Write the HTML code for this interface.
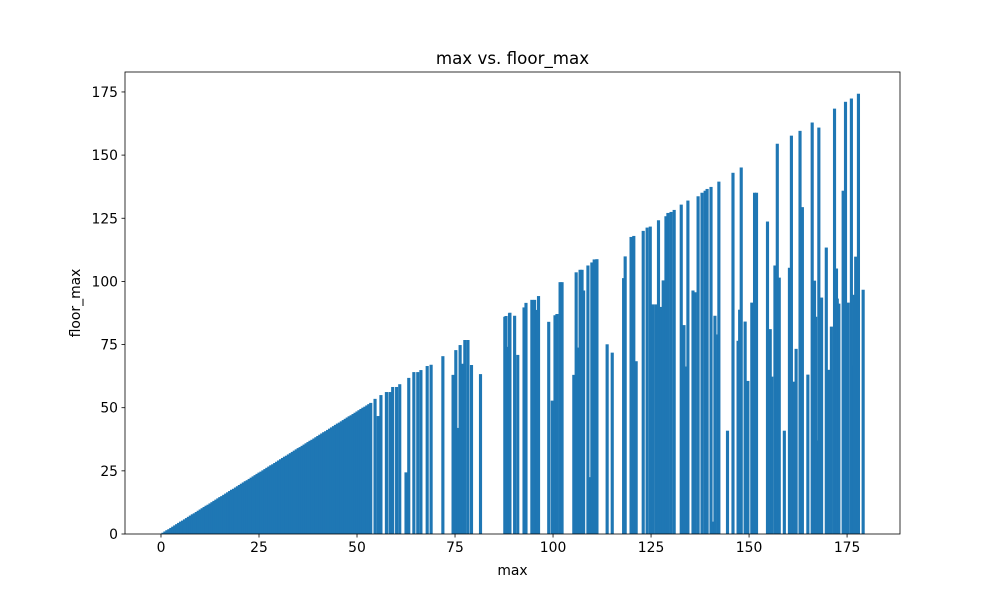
<!DOCTYPE html>
<html><head><meta charset="utf-8"><style>
body{margin:0;background:#fff}
svg text{font-family:"DejaVu Sans","Liberation Sans",sans-serif;fill:#000}
</style></head><body>
<svg id="chart" width="1000" height="600" xmlns="http://www.w3.org/2000/svg">
<rect width="1000" height="600" fill="#fff"/>
<text x="512.5" y="64" font-size="16.7" text-anchor="middle">max vs. floor_max</text>
<text x="512.5" y="575" font-size="13.9" text-anchor="middle">max</text>
<text x="0" y="0" font-size="13.9" text-anchor="middle" transform="translate(80,303) rotate(-90)">floor_max</text>
<g id="bars"></g>
<g id="axes"></g>
</svg>
<script>
const denseX = [0,0.5,1,1.5,2,2.5,3,3.5,4,4.5,
5,5.5,6,6.5,7,7.5,8,8.5,9,9.5,
10,10.5,11,11.5,12,12.5,13,13.5,14,14.5,
15,15.5,16,16.5,17,17.5,18,18.5,19,19.5,
20,20.5,21,21.5,22,22.5,23,23.5,24,24.5,
25,25.5,26,26.5,27,27.5,28,28.5,29,29.5,
30,30.5,31,31.5,32,32.5,33,33.5,34,34.5,
35,35.5,36,36.5,37,37.5,38,38.5,39,39.5,
40,40.5,41,41.5,42,42.5,43,43.5,44,44.5,
45,45.5,46,46.5,47,47.5,48,48.5,49,49.5,
50,50.5,51,51.5,52,52.5,53,53.5];
const denseH = [0,0.5,1,1.5,1.9,2.4,2.9,3.4,3.9,4.4,
4.9,5.3,5.8,6.3,6.8,7.3,7.8,8.2,8.7,9.2,
9.7,10.2,10.7,11.2,11.6,12.1,12.6,13.1,13.6,14.1,
14.6,15,15.5,16,16.5,17,17.5,17.9,18.4,18.9,
19.4,19.9,20.4,20.9,21.3,21.8,22.3,22.8,23.3,23.8,
24.3,24.7,25.2,25.7,26.2,26.7,27.2,27.6,28.1,28.6,
29.1,29.6,30.1,30.6,31,31.5,32,32.5,33,33.5,
34,34.4,34.9,35.4,35.9,36.4,36.9,37.3,37.8,38.3,
38.8,39.3,39.8,40.3,40.7,41.2,41.7,42.2,42.7,43.2,
43.7,44.1,44.6,45.1,45.6,46.1,46.6,47,47.5,48,
48.5,49,49.5,50,50.4,50.9,51.4,51.9];
const sparseX = [54.6,55.4,56.1,57.5,58.4,59.1,60.1,60.9,62.5,63.2,64.5,65.5,66.3,67.9,68.9,71.9,74.5,75.2,75.7,76.3,77.0,77.5,78.3,79.2,81.5,
87.7,88.0,88.6,88.9,89.0,90.2,91.0,92.6,93.1,94.6,95.3,95.8,96.3,98.9,99.8,100.5,101.0,101.8,102.3,
105.3,105.9,106.4,106.9,107.4,107.8,108.9,109.5,109.9,110.5,111.2,113.8,115.1,118.0,118.4,119.9,120.6,121.2,123.0,124.0,124.8,125.5,126.3,126.9,127.6,128.1,128.8,129.3,130.1,130.9,
132.7,133.4,134.0,134.4,135.7,136.2,137.0,138.0,138.8,139.3,140.3,140.9,141.3,142.1,142.3,
144.5,145.9,147.2,147.6,148.0,149.0,149.7,150.7,151.1,151.4,151.9,154.7,155.4,155.8,156.6,157.2,157.7,159.0,160.3,160.8,161.4,162.0,163.0,163.6,165.0,166.1,166.7,167.0,167.2,167.8,168.5,169.7,170.4,171.0,171.8,172.3,172.5,172.9,174.0,174.6,175.3,176.1,176.5,176.8,177.2,177.9,179.1];
const sparseH = [53.5,46.7,55.0,56.2,56.2,58.2,58.2,59.3,24.4,61.8,64.1,64.1,64.9,66.5,67.0,70.4,63.0,72.8,42.0,74.8,67.4,76.8,76.8,66.9,63.3,
86.0,86.3,74.1,87.4,87.6,86.4,70.9,89.7,91.5,92.7,92.7,88.7,94.2,84.0,52.8,86.6,87.1,99.7,99.7,
63.0,103.6,73.8,104.6,104.6,96.4,106.3,22.5,107.5,108.7,108.8,75.1,71.8,101.3,109.9,117.6,118.0,68.4,120.0,121.3,121.7,90.9,90.9,124.2,89.9,100.4,125.8,127.1,127.5,128.3,
130.4,82.7,66.3,132.0,96.4,95.7,133.7,135.1,135.9,136.6,137.4,4.9,86.4,79.0,139.5,
40.9,143.0,76.5,88.8,145.1,84.1,60.6,91.6,64.5,135.1,135.1,123.7,81.1,62.3,106.3,154.5,101.5,40.9,105.4,157.7,60.3,73.3,159.6,129.4,63.1,162.9,100.3,86.0,37.0,160.9,93.6,113.4,65.0,82.1,168.4,105.1,93.2,91.2,135.9,171.1,91.6,172.4,66.7,94.7,109.8,174.3,96.7];
const xTicks = [0,25,50,75,100,125,150,175];
const yTicks = [0,25,50,75,100,125,150,175];

const L=125,R=900,T=72,B=534,xMin=-9.18,xMax=188.5,yMax=182.9;
const sx=v=>L+(v-xMin)/(xMax-xMin)*(R-L);
const sy=v=>B-v/yMax*(B-T);
const NS="http://www.w3.org/2000/svg";
const bars=document.getElementById('bars'), axes=document.getElementById('axes');
function bar(x,h){
  const r=document.createElementNS(NS,'rect');
  r.setAttribute('x',sx(x-0.4));r.setAttribute('width',sx(x+0.4)-sx(x-0.4));
  r.setAttribute('y',sy(h));r.setAttribute('height',sy(0)-sy(h));
  r.setAttribute('fill','#1f77b4');
  
  
  bars.appendChild(r);
}
denseX.forEach((x,i)=>{ if(i<denseH.length) bar(x,denseH[i]); });
sparseX.forEach((x,i)=>{ if(i<sparseH.length) bar(x,sparseH[i]); });
const frame=document.createElementNS(NS,'rect');
frame.setAttribute('x',L);frame.setAttribute('y',T);frame.setAttribute('width',R-L);frame.setAttribute('height',B-T);
frame.setAttribute('fill','none');frame.setAttribute('stroke','#000');frame.setAttribute('stroke-width','0.8');


axes.appendChild(frame);
xTicks.forEach(t=>{
  const x=sx(t);
  const l=document.createElementNS(NS,'line');
  l.setAttribute('x1',x);l.setAttribute('x2',x);l.setAttribute('y1',B);l.setAttribute('y2',B+3.5);l.setAttribute('stroke','#000');l.setAttribute('stroke-width','0.8');
  
  
  axes.appendChild(l);
  const tx=document.createElementNS(NS,'text');
  tx.setAttribute('x',x);tx.setAttribute('y',B+18);tx.setAttribute('font-size','13.9');tx.setAttribute('text-anchor','middle');
  tx.textContent=t;
  
  
  axes.appendChild(tx);
});
yTicks.forEach(t=>{
  const y=sy(t);
  const l=document.createElementNS(NS,'line');
  l.setAttribute('x1',L-3.5);l.setAttribute('x2',L);l.setAttribute('y1',y);l.setAttribute('y2',y);l.setAttribute('stroke','#000');l.setAttribute('stroke-width','0.8');
  
  
  axes.appendChild(l);
  const tx=document.createElementNS(NS,'text');
  tx.setAttribute('x',L-7);tx.setAttribute('y',y+5);tx.setAttribute('font-size','13.9');tx.setAttribute('text-anchor','end');
  tx.textContent=t;
  
  
  axes.appendChild(tx);
});
</script>
</body></html>
